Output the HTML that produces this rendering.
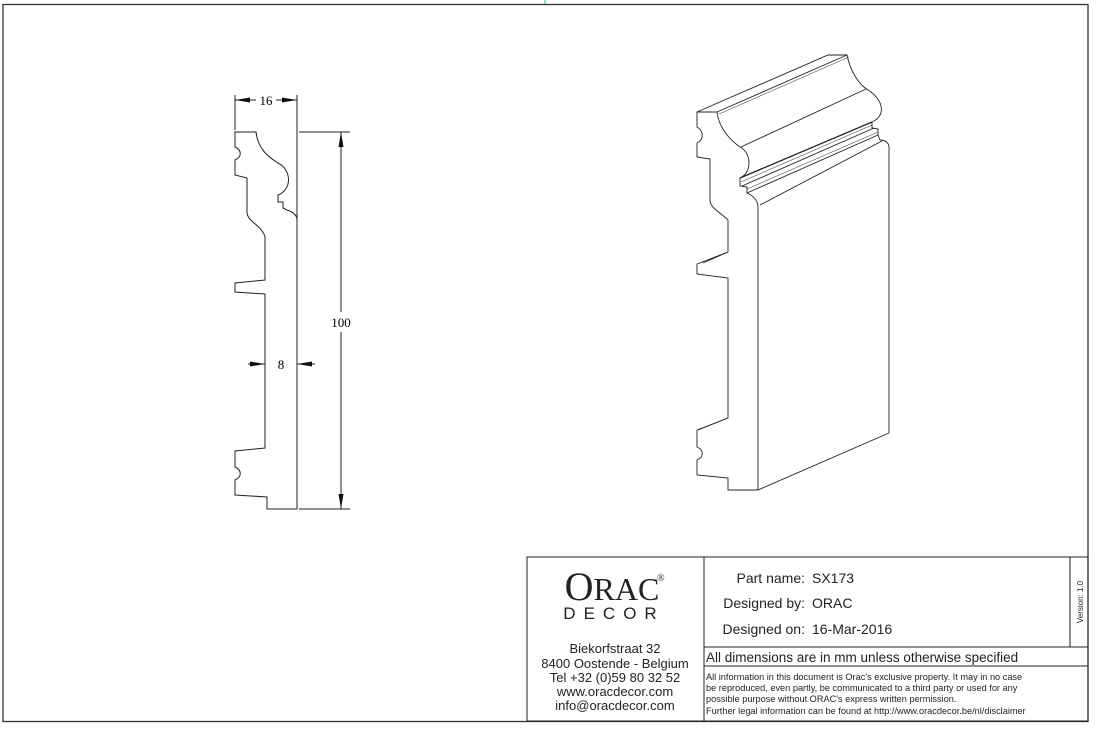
<!DOCTYPE html>
<html><head><meta charset="utf-8"><style>
html,body{margin:0;padding:0;background:#fff;}
svg{display:block;}
text{font-family:"Liberation Serif",serif;}
.s,.s text{font-family:"Liberation Sans",sans-serif;}
</style></head><body>
<svg width="1096" height="729" viewBox="0 0 1096 729" xmlns="http://www.w3.org/2000/svg">
<rect x="3" y="4.5" width="1085" height="717" fill="none" stroke="#333" stroke-width="1.3"/>
<line x1="545" y1="0" x2="545" y2="4" stroke="#3ab" stroke-width="1"/>
<g fill="none" stroke="#222" stroke-width="1">
<path d="M235,132 L256,132 C258,150 270,158 278,163 C292,170 292,190 278,195 L278,202 L283,202 L283,208 L287,210 C294,212 297,216 297,220 L297,509 L267,509 L267,497 L235,495 L235,480 C242,477 242,470 235,467 L235,451 L265,448 L265,294 L235,292 L235,283 L265,280 L265,237 C262,225 247,222 247,212 L247,178 L235,175 L235,160 C242,157 242,150 235,147 Z"/>
<line x1="235" y1="95" x2="235" y2="130"/>
<line x1="297" y1="95" x2="297" y2="218"/>
<line x1="299" y1="132" x2="350" y2="132"/>
<line x1="299" y1="509" x2="350" y2="509"/>
<line x1="341" y1="132" x2="341" y2="312"/>
<line x1="341" y1="332" x2="341" y2="509"/>
<line x1="235" y1="100" x2="256" y2="100"/>
<line x1="276" y1="100" x2="297" y2="100"/>
<line x1="248" y1="364" x2="265" y2="364"/>
<line x1="297" y1="364" x2="315" y2="364"/>
</g>
<g fill="#111">
<polygon points="235,100 250,97.5 250,102.5"/>
<polygon points="297,100 282,97.5 282,102.5"/>
<polygon points="341,132 338.5,147 343.5,147"/>
<polygon points="341,509 338.5,494 343.5,494"/>
<polygon points="265,364 250,361.5 250,366.5"/>
<polygon points="297,364 312,361.5 312,366.5"/>
</g>
<text x="266" y="105" font-size="13" text-anchor="middle">16</text>
<text x="341" y="327" font-size="13" text-anchor="middle">100</text>
<text x="281" y="369" font-size="13" text-anchor="middle">8</text>
<g fill="none" stroke="#222" stroke-width="0.9">
<path d="M697,112 L717,112 C719,128 730,140 740,147 C752,153 752,173 740,178 L740,186 L747,187 L747,193 C752,195 758,200 758,207 L758,490 L728,490 L728,478 L697,475 L697,460 C704,457 704,450 697,447 L697,430 L728,418 L728,278 L697,274 L697,264 L728,252 L728,220 C720,212 710,208 710,200 L710,159 L697,157 L697,143 C704,140 704,131 697,127 Z"/>
<line x1="703" y1="263" x2="728" y2="252"/>
<line x1="698" y1="430" x2="728" y2="418"/>
<line x1="758" y1="490" x2="889" y2="433"/>
<path d="M889,433 L889,147 C889,143 885,140 880,140 L878,135 L878,129 L872,128 L872,122 C886,116 884,100 868,90 C858,84 850,70 847,55 L828,55 L697,112"/>
<line x1="717" y1="112" x2="847" y2="55"/>
<line x1="719" y1="114" x2="849" y2="57" stroke-width="0.5"/>
<line x1="741" y1="147" x2="866" y2="89"/>
<line x1="740" y1="178" x2="872" y2="122" stroke-width="1.3"/>
<line x1="741" y1="182" x2="872" y2="125" stroke-width="0.5"/>
<line x1="742" y1="186" x2="874" y2="128"/>
<line x1="747" y1="189" x2="878" y2="132" stroke-width="0.5"/>
<line x1="747" y1="193" x2="878" y2="135"/>
<line x1="760" y1="205" x2="882" y2="141"/>
</g>
<g fill="none" stroke="#222" stroke-width="1">
<rect x="527" y="557" width="561" height="164"/>
<line x1="704" y1="557" x2="704" y2="721"/>
<line x1="704" y1="647" x2="1088" y2="647"/>
<line x1="704" y1="666" x2="1088" y2="666"/>
<line x1="1070" y1="557" x2="1070" y2="647"/>
</g>
<text x="612" y="600" font-size="32" text-anchor="middle" fill="#222"><tspan font-size="40">O</tspan>RAC</text>
<text x="657" y="581" font-size="10" fill="#222">®</text>
<text x="614" y="619" font-size="17" text-anchor="middle" class="s" letter-spacing="8" fill="#222">DECOR</text>
<g class="s" font-size="13" text-anchor="middle" fill="#222">
<text x="615" y="653">Biekorfstraat 32</text>
<text x="615" y="668">8400 Oostende - Belgium</text>
<text x="615" y="682">Tel  +32 (0)59 80 32 52</text>
<text x="615" y="696">www.oracdecor.com</text>
<text x="615" y="710">info@oracdecor.com</text>
</g>
<g class="s" font-size="14" fill="#222">
<text x="805" y="583" text-anchor="end">Part name:</text><text x="812" y="583">SX173</text>
<text x="805" y="608" text-anchor="end">Designed by:</text><text x="812" y="608">ORAC</text>
<text x="805" y="634" text-anchor="end">Designed on:</text><text x="812" y="634">16-Mar-2016</text>
<text x="706" y="662" font-size="13.5">All dimensions are in mm unless otherwise specified</text>
</g>
<g class="s" font-size="9.2" fill="#222">
<text x="706" y="680">All information in this document is Orac's exclusive property.  It may in no case</text>
<text x="706" y="691">be reproduced, even partly, be communicated to a third party or used for any</text>
<text x="706" y="702">possible purpose without ORAC's express written permission.</text>
<text x="706" y="714">Further legal information can be found at http://www.oracdecor.be/nl/disclaimer</text>
</g>
<text x="1083" y="602" class="s" font-size="8" fill="#222" text-anchor="middle" transform="rotate(-90 1083 602)">Version: 1.0</text>
</svg>
</body></html>
